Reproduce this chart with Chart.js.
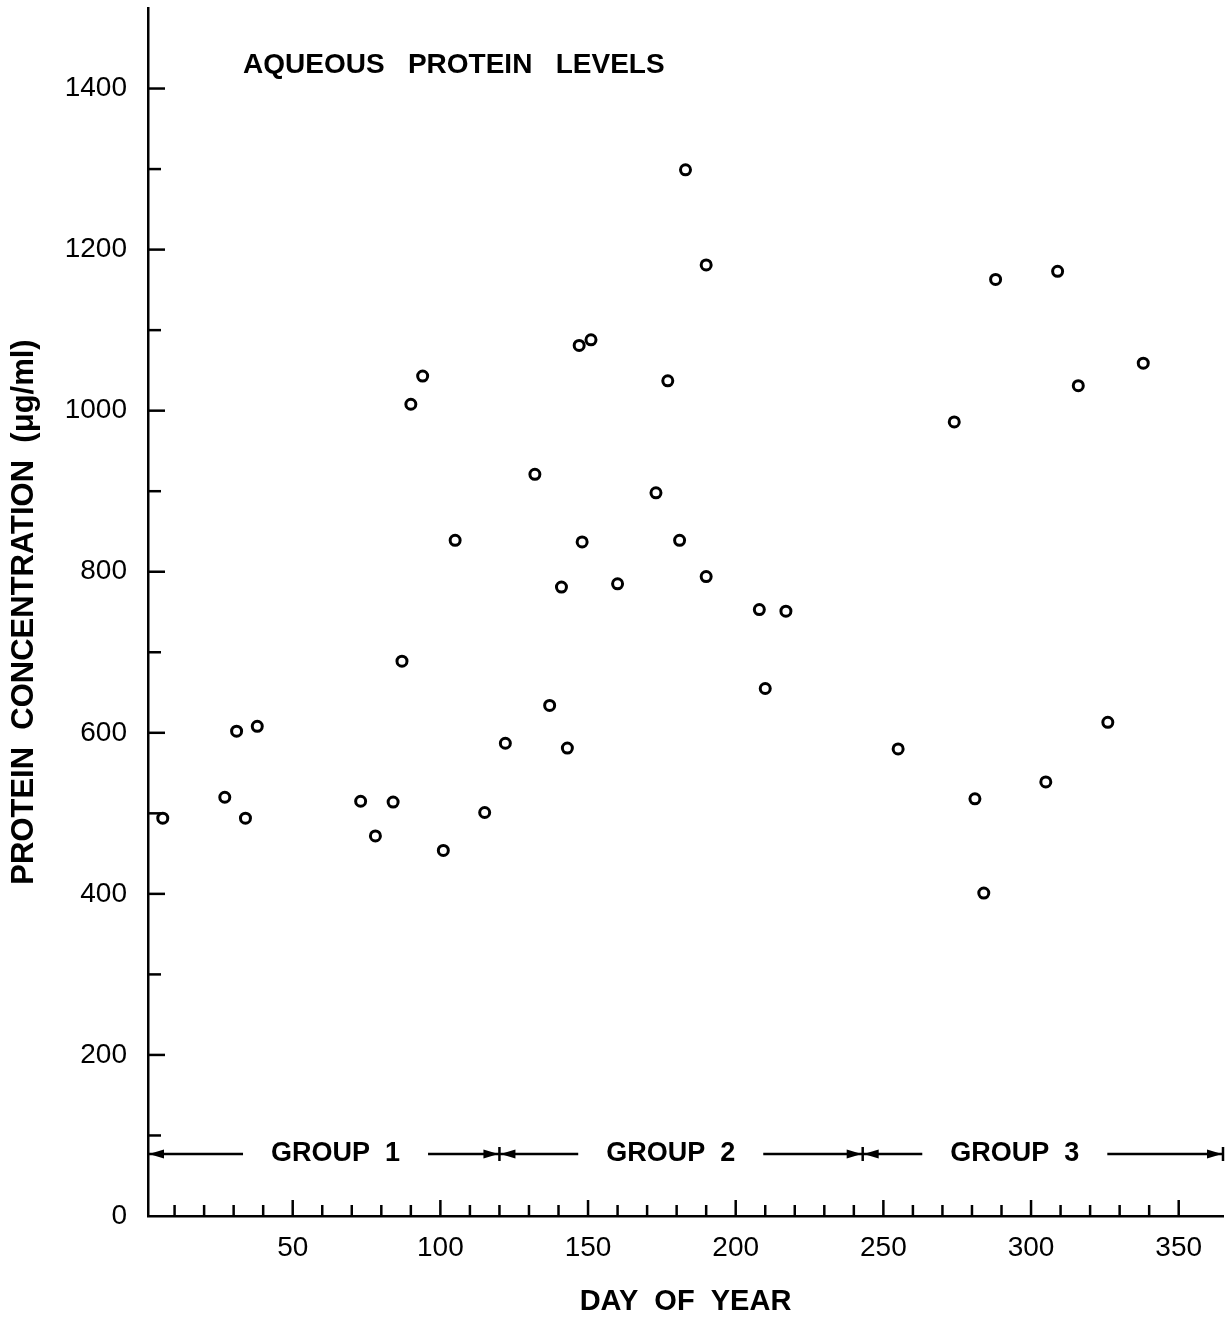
<!DOCTYPE html>
<html>
<head>
<meta charset="utf-8">
<script src="https://cdn.jsdelivr.net/npm/chart.js@4.4.1/dist/chart.umd.min.js"></script>
<style>
body { margin: 0; background: #fff; }
canvas { display: block; background: #fff; }
</style>
</head>
<body>
<canvas id="wykres" width="1231" height="1322"></canvas>
<script>
// dane (dzien roku, bialko w ug/ml)
var dni = [6, 27, 31, 34, 38, 73, 78, 84, 87, 90, 94, 101, 105, 115, 122, 132, 137, 141, 143, 147, 148, 151, 160, 173, 177, 181, 183, 190, 190, 208, 210, 217, 255, 274, 281, 284, 288, 305, 309, 316, 326, 338];
var bialko = [494, 520, 602, 494, 608, 515, 472, 514, 689, 1008, 1043, 454, 839, 501, 587, 921, 634, 781, 581, 1081, 837, 1088, 785, 898, 1037, 839, 1299, 1181, 794, 753, 655, 751, 580, 986, 518, 401, 1163, 539, 1173, 1031, 613, 1059];

// grupy (zakres dni)
var grupy = ["GROUP  1", "GROUP  2", "GROUP  3"];
var grupaOd = [1, 120, 243];
var grupaDo = [120, 243, 365];

// opisy osi
var etykietyX = [50, 100, 150, 200, 250, 300, 350];
var etykietyY = [0, 200, 400, 600, 800, 1000, 1200, 1400];

var czcionka = '"Liberation Sans", Arial, sans-serif';

var punkty = [];
for (var i = 0; i < dni.length; i++) {
	punkty.push({x: dni[i], y: bialko[i]});
}

function linia(ctx, x1, y1, x2, y2) {
	ctx.beginPath();
	ctx.moveTo(x1, y1);
	ctx.lineTo(x2, y2);
	ctx.stroke();
}

function grot(ctx, x, y, kier) {
	ctx.beginPath();
	ctx.moveTo(x, y);
	ctx.lineTo(x + kier * 15, y - 4.5);
	ctx.lineTo(x + kier * 15, y + 4.5);
	ctx.closePath();
	ctx.fill();
}

// bez dodatkowych marginesow od etykiet skrajnych
function bezMarginesu(s) {
	s.paddingTop = 0;
	s.paddingBottom = 0;
	s.paddingLeft = 0;
	s.paddingRight = 0;
}

// kreski podzialki do srodka, tytul i strzalki grup
var dodatki = {
	id: 'dodatki',
	afterDraw: function(chart, args, opts) {
		var ctx = chart.ctx;
		var sx = chart.scales.x;
		var sy = chart.scales.y;
		var area = chart.chartArea;
		ctx.save();
		ctx.strokeStyle = '#000';
		ctx.fillStyle = '#000';
		ctx.lineWidth = 2.5;

		sx.ticks.forEach(function(t) {
			var v = t.value;
			if (v % 10 !== 0 || v <= sx.min || v >= sx.max) return;
			var px = sx.getPixelForValue(v);
			var dl = (v % 50 === 0) ? 16 : 11;
			linia(ctx, px, area.bottom, px, area.bottom - dl);
		});
		sy.ticks.forEach(function(t) {
			var v = t.value;
			if (v <= sy.min || v >= sy.max) return;
			var py = sy.getPixelForValue(v);
			var dl = (v % 200 === 0) ? 17 : 13;
			linia(ctx, area.left, py, area.left + dl, py);
		});

		// tytul w polu wykresu
		ctx.font = 'bold 28px ' + czcionka;
		ctx.textAlign = 'left';
		ctx.textBaseline = 'middle';
		ctx.fillText(opts.tytul, area.left + 95, area.top + 57);

		// strzalki grup
		ctx.font = 'bold 27px ' + czcionka;
		var ya = sy.getPixelForValue(opts.poziom);
		ctx.textAlign = 'center';
		for (var g = 0; g < grupy.length; g++) {
			var x0 = sx.getPixelForValue(grupaOd[g]);
			var x1 = sx.getPixelForValue(grupaDo[g]);
			var xc = sx.getPixelForValue(opts.srodki[g]);
			ctx.fillText(grupy[g], xc, ya);
			var pol = ctx.measureText(grupy[g]).width / 2 + 28;
			linia(ctx, x0, ya, xc - pol, ya);
			linia(ctx, xc + pol, ya, x1, ya);
			grot(ctx, x0 + 1, ya, 1);
			grot(ctx, x1 - 1, ya, -1);
			linia(ctx, x1, ya - 7, x1, ya + 7);
		}
		ctx.restore();
	}
};

var wykres = new Chart(document.getElementById('wykres'), {
	type: 'scatter',
	data: {
		datasets: [{
			label: 'Aqueous protein',
			data: punkty,
			pointStyle: 'circle',
			pointRadius: 5,
			pointHoverRadius: 5,
			pointBorderWidth: 3,
			pointBorderColor: '#000',
			pointBackgroundColor: 'rgba(255,255,255,0)'
		}]
	},
	options: {
		responsive: false,
		animation: false,
		layout: {padding: {top: 5, right: 5, left: 0, bottom: 0}},
		plugins: {
			legend: {display: false},
			tooltip: {enabled: false},
			dodatki: {
				tytul: 'AQUEOUS   PROTEIN   LEVELS',
				poziom: 77,
				srodki: [64.5, 178, 294.5]
			}
		},
		scales: {
			x: {
				type: 'linear',
				min: 1,
				max: 365,
				afterFit: function(s) { s.height = 106; bezMarginesu(s); },
				grid: {display: false, drawTicks: false},
				border: {display: true, color: '#000', width: 2.5},
				ticks: {
					stepSize: 10,
					autoSkip: false,
					maxRotation: 0,
					padding: 15,
					color: '#000',
					font: {family: czcionka, size: 28},
					callback: function(v) { return etykietyX.indexOf(v) >= 0 ? String(v) : ''; }
				},
				title: {
					display: true,
					text: 'DAY  OF  YEAR',
					color: '#000',
					font: {family: czcionka, size: 29, weight: 'bold'},
					padding: {top: 0, bottom: 3}
				}
			},
			y: {
				min: 0,
				max: 1500,
				afterFit: function(s) { s.width = 148; bezMarginesu(s); },
				grid: {display: false, drawTicks: false},
				border: {display: true, color: '#000', width: 2.5},
				ticks: {
					stepSize: 100,
					autoSkip: false,
					padding: 21,
					color: '#000',
					font: {family: czcionka, size: 28},
					callback: function(v) { return etykietyY.indexOf(v) >= 0 ? String(v) : ''; }
				},
				title: {
					display: true,
					text: 'PROTEIN  CONCENTRATION  (μg/ml)',
					color: '#000',
					font: {family: czcionka, size: 31, weight: 'bold'},
					padding: {top: 6, bottom: 0}
				}
			}
		}
	},
	plugins: [dodatki]
});
</script>
</body>
</html>
